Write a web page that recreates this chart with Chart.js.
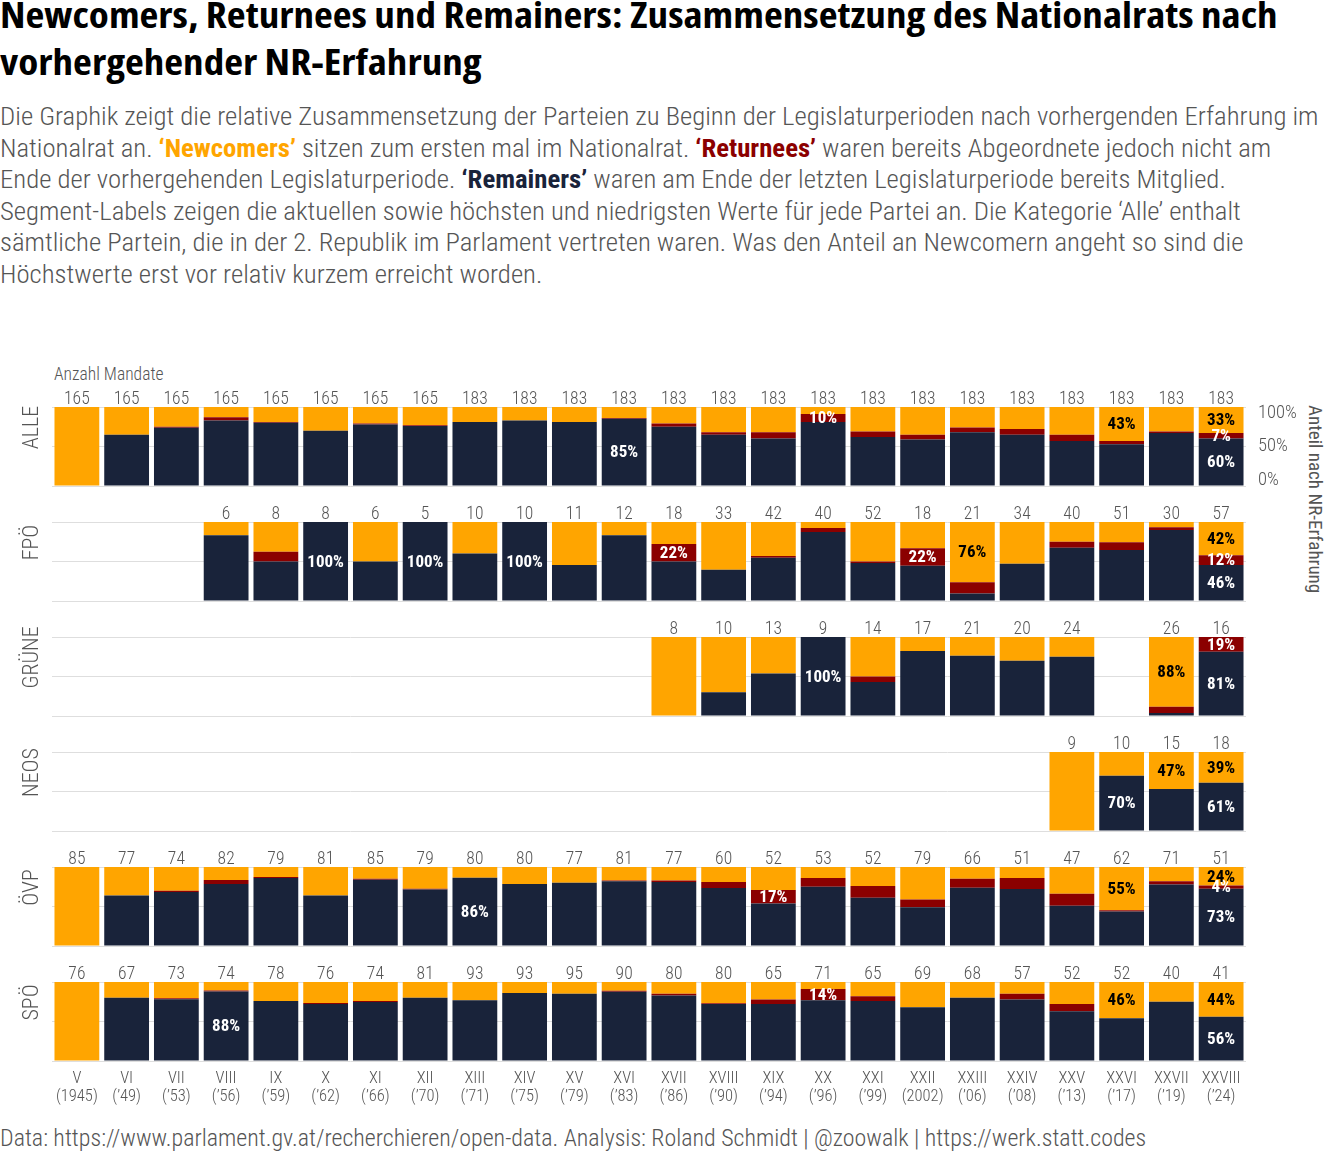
<!DOCTYPE html>
<html><head><meta charset="utf-8">
<script src="https://cdn.jsdelivr.net/npm/chart.js@4.4.1/dist/chart.umd.min.js"></script>
<style>
html,body{margin:0;padding:0;background:#fff}
body{width:1344px;height:1152px;position:relative;overflow:hidden;font-family:"Roboto Condensed",Roboto,sans-serif}
.ln{position:absolute;left:0;white-space:nowrap;transform-origin:0 0}
.ln span{display:inline-block}
.title{font-family:"Open Sans",sans-serif;font-weight:700;font-stretch:86%;font-size:36px;line-height:47px;color:#000}
.sub{font-weight:300;font-size:26.5px;line-height:31.6px;color:#555}
.sub b{font-weight:700}
.small{font-weight:300;color:#555}
canvas{position:absolute;left:0}
</style></head>
<body>
<div class="ln title" style="top:-9.5px"><span id="t1">Newcomers, Returnees und Remainers: Zusammensetzung des Nationalrats nach</span></div>
<div class="ln title" style="top:37.5px"><span id="t2">vorhergehender NR-Erfahrung</span></div>

<div class="ln sub" style="top:100px"><span id="s1">Die Graphik zeigt die relative Zusammensetzung der Parteien zu Beginn der Legislaturperioden nach vorhergenden Erfahrung im</span></div>
<div class="ln sub" style="top:131.6px"><span class="s">Nationalrat an. <b style="color:#FFA500">‘Newcomers’</b> sitzen zum ersten mal im Nationalrat. <b style="color:#8B0000">‘Returnees’</b> waren bereits Abgeordnete jedoch nicht am</span></div>
<div class="ln sub" style="top:163.2px"><span class="s">Ende der vorhergehenden Legislaturperiode. <b style="color:#19233A">‘Remainers’</b> waren am Ende der letzten Legislaturperiode bereits Mitglied.</span></div>
<div class="ln sub" style="top:194.8px"><span class="s">Segment-Labels zeigen die aktuellen sowie höchsten und niedrigsten Werte für jede Partei an. Die Kategorie ‘Alle’ enthalt</span></div>
<div class="ln sub" style="top:226.4px"><span class="s">sämtliche Partein, die in der 2. Republik im Parlament vertreten waren. Was den Anteil an Newcomern angeht so sind die</span></div>
<div class="ln sub" style="top:258px"><span class="s">Höchstwerte erst vor relativ kurzem erreicht worden.</span></div>

<div class="ln small" style="left:54px;top:366px;font-size:17.5px;line-height:17.5px">Anzahl Mandate</div>
<div class="small" style="position:absolute;left:1304px;top:405px;font-size:19px;font-weight:400;writing-mode:vertical-rl;white-space:nowrap">Anteil nach NR-Erfahrung</div>

<div class="ln small" style="top:1126px;font-size:24px;line-height:24px"><span id="foot">Data: https://www.parlament.gv.at/recherchieren/open-data. Analysis: Roland Schmidt | @zoowalk | https://werk.statt.codes</span></div>

<script>
// ---------- DATA ----------
const periods = ['V','VI','VII','VIII','IX','X','XI','XII','XIII','XIV','XV','XVI','XVII','XVIII','XIX','XX','XXI','XXII','XXIII','XXIV','XXV','XXVI','XXVII','XXVIII'];
const periodYears = ['(1945)','(’49)','(’53)','(’56)','(’59)','(’62)','(’66)','(’70)','(’71)','(’75)','(’79)','(’83)','(’86)','(’90)','(’94)','(’96)','(’99)','(2002)','(’06)','(’08)','(’13)','(’17)','(’19)','(’24)'];
const partyNames = ['ALLE','FPÖ','GRÜNE','NEOS','ÖVP','SPÖ'];

const alleMandates  = [165,165,165,165,165,165,165,165,183,183,183,183,183,183,183,183,183,183,183,183,183,183,183,183];
const alleNewcomers = [100,35,25,13,19,30,21,23,19,17,19,14,21,32,32,9,31,35,26,28,35,43,31,33];
const alleReturnees = [0,0,1.3,4,1,0,1,1,0,0,0,1,4,3,8,10,7,6,6,7,8,4,2,7];
const alleRemainers = [0,65,73.7,83,80,70,78,76,81,83,81,85,75,65,60,81,62,59,68,65,57,53,67,60];

const fpoMandates  = [null,null,null,6,8,8,6,5,10,10,11,12,18,33,42,40,52,18,21,34,40,51,30,57];
const fpoNewcomers = [null,null,null,16.7,37.5,0,50,0,40,0,54.5,16.7,27.8,60.6,42.9,7.5,50,33.3,76.2,52.9,25,25.5,6.7,42.1];
const fpoReturnees = [null,null,null,0,12.5,0,0,0,0,0,0,0,22.2,0,2.4,5,1.9,22.2,14.3,0,7.5,9.8,3.3,12.3];
const fpoRemainers = [null,null,null,83.3,50,100,50,100,60,100,45.5,83.3,50,39.4,54.7,87.5,48.1,44.5,9.5,47.1,67.5,64.7,90,45.6];

const grueneMandates  = [null,null,null,null,null,null,null,null,null,null,null,null,8,10,13,9,14,17,21,20,24,null,26,16];
const grueneNewcomers = [null,null,null,null,null,null,null,null,null,null,null,null,100,70,46.2,0,50,17.6,23.8,30,25,null,88.4,0];
const grueneReturnees = [null,null,null,null,null,null,null,null,null,null,null,null,0,0,0,0,7.1,0,0,0,0,null,7.7,18.8];
const grueneRemainers = [null,null,null,null,null,null,null,null,null,null,null,null,0,30,53.8,100,42.9,82.4,76.2,70,75,null,3.9,81.2];

const neosMandates  = [null,null,null,null,null,null,null,null,null,null,null,null,null,null,null,null,null,null,null,null,9,10,15,18];
const neosNewcomers = [null,null,null,null,null,null,null,null,null,null,null,null,null,null,null,null,null,null,null,null,100,30,46.7,38.9];
const neosReturnees = [null,null,null,null,null,null,null,null,null,null,null,null,null,null,null,null,null,null,null,null,0,0,0,0];
const neosRemainers = [null,null,null,null,null,null,null,null,null,null,null,null,null,null,null,null,null,null,null,null,0,70,53.3,61.1];

const oevpMandates  = [85,77,74,82,79,81,85,79,80,80,77,81,77,60,52,53,52,79,66,51,47,62,71,51];
const oevpNewcomers = [100,36,30,16.5,12.7,36,15,27.5,13.75,21.6,20,17,17,19,29,14,24,41,15,14,34,54.8,18,23.5];
const oevpReturnees = [0,0,1.5,5,1.3,0,1,1,0,0,0,1,2,7.6,17.3,11,15,10,11.4,14,15,1.4,4,3.9];
const oevpRemainers = [0,64,68.5,78.5,86,64,84,71.5,86.25,78.4,80,82,81,73.4,53.7,75,61,49,73.6,72,51,43.8,78,72.6];

const spoeMandates  = [76,67,73,74,78,76,74,81,93,93,95,90,80,80,65,71,65,69,68,57,52,52,40,41];
const spoeNewcomers = [100,20,20.5,10.7,24,26.7,24,20,23,14,15,11.2,15,27,22,9,18,32,20,15,28,46,25,43.9];
const spoeReturnees = [0,0,1.4,1.4,0,1.3,1.4,0,0,0,0,1.1,2,1,6,14,6,0,0,7,9,0,0,0];
const spoeRemainers = [0,80,78.1,87.9,76,72,74.6,80,77,86,85,87.7,83,72,72,77,76,68,80,78,63,54,75,56.1];

// ---------- STYLE ----------
const NAVY = '#19233A', RED = '#8B0000', ORANGE = '#FFA500', GREY = '#555555', GRID = '#dedede';
const FONT = '"Roboto Condensed", Roboto, sans-serif';
Chart.defaults.font.family = FONT;

const rows = [
  {name: partyNames[0], mandates: alleMandates, newcomers: alleNewcomers, returnees: alleReturnees, remainers: alleRemainers},
  {name: partyNames[1], mandates: fpoMandates, newcomers: fpoNewcomers, returnees: fpoReturnees, remainers: fpoRemainers},
  {name: partyNames[2], mandates: grueneMandates, newcomers: grueneNewcomers, returnees: grueneReturnees, remainers: grueneRemainers},
  {name: partyNames[3], mandates: neosMandates, newcomers: neosNewcomers, returnees: neosReturnees, remainers: neosRemainers},
  {name: partyNames[4], mandates: oevpMandates, newcomers: oevpNewcomers, returnees: oevpReturnees, remainers: oevpRemainers},
  {name: partyNames[5], mandates: spoeMandates, newcomers: spoeNewcomers, returnees: spoeReturnees, remainers: spoeRemainers}
];

// label current value + highest value per category (first period of a party excluded)
function labelFlags(values, first) {
  const last = values.length - 1;
  let max = -Infinity;
  values.forEach((v, i) => { if (i > first && v != null && v > max) max = v; });
  return values.map((v, i) => v != null && v > 0 && (i === last || (i > first && v === max)));
}

const annotPlugin = {
  id: 'annot',
  afterDatasetsDraw(chart, args, opts) {
    const row = opts.row;
    const {ctx, chartArea} = chart;
    const xs = chart.scales.x;
    ctx.save();
    // mandate counts
    ctx.font = '300 17.5px ' + FONT;
    ctx.fillStyle = GREY;
    ctx.textAlign = 'center';
    ctx.textBaseline = 'alphabetic';
    row.mandates.forEach((m, i) => {
      if (m == null) return;
      ctx.fillText(String(m), xs.getPixelForValue(i), chartArea.top - 3);
    });
    // party name
    ctx.save();
    ctx.font = '300 22px ' + FONT;
    ctx.translate(32, (chartArea.top + chartArea.bottom) / 2 - 19);
    ctx.rotate(-Math.PI / 2);
    ctx.textBaseline = 'middle';
    ctx.fillText(row.name, 0, 0);
    ctx.restore();
    // segment labels
    const first = row.mandates.findIndex(m => m != null);
    ctx.font = 'bold 17px ' + FONT;
    ctx.textBaseline = 'middle';
    const series = [row.remainers, row.returnees, row.newcomers];
    series.forEach((vals, d) => {
      const flags = labelFlags(vals, first);
      const meta = chart.getDatasetMeta(d);
      flags.forEach((f, i) => {
        if (!f) return;
        const el = meta.data[i];
        ctx.fillStyle = d === 2 ? '#000' : '#fff';
        ctx.fillText(Math.round(vals[i]) + '%', el.x, (el.y + el.base) / 2 + 1);
      });
    });
    ctx.restore();
  }
};

rows.forEach((row, k) => {
  const isFirst = k === 0, isLast = k === rows.length - 1;
  const h = isLast ? 149 : 116;
  const cv = document.createElement('canvas');
  cv.width = 1344; cv.height = h;
  cv.style.width = '1344px'; cv.style.height = h + 'px';
  cv.style.top = (407 + 115 * k - 25) + 'px';
  document.body.appendChild(cv);
  const ds = (label, data, color) => ({label, data, backgroundColor: color, borderWidth: 0, barPercentage: 0.9, categoryPercentage: 1, stack: 's'});
  const xScale = {stacked: true, display: isLast, grid: {display: false, drawTicks: false}, border: {display: false},
        ticks: {autoSkip: false, maxRotation: 0, minRotation: 0, color: GREY, font: {size: 16.5, weight: 300, lineHeight: 1.1}, padding: 9}};
  if (isLast) xScale.afterFit = s => { s.height = 45; };
  const scales = {
    x: xScale,
    y: {stacked: true, min: 0, max: 100, position: 'left',
        ticks: {display: false, stepSize: 50},
        grid: {color: GRID, lineWidth: 1, drawTicks: false}, border: {display: false},
        afterFit: s => { s.width = 52; }}
  };
  if (isFirst) {
    scales.y2 = {position: 'right', min: -9, max: 109,
      grid: {display: false, drawTicks: false}, border: {display: false},
      afterBuildTicks: s => { s.ticks = [{value: 0}, {value: 50}, {value: 100}]; },
      ticks: {callback: v => v + '%', color: GREY, font: {size: 18.5, weight: 300}, padding: 12},
      afterFit: s => { s.width = 98; s.paddingTop = 0; s.paddingBottom = 0; }};
  }
  new Chart(cv, {
    type: 'bar',
    data: {
      labels: periods.map((p, i) => [p, periodYears[i]]),
      datasets: [
        ds('Remainers', row.remainers, NAVY),
        ds('Returnees', row.returnees, RED),
        ds('Newcomers', row.newcomers, ORANGE)
      ]
    },
    options: {
      responsive: false, animation: false,
      layout: {padding: {top: 25, bottom: isLast ? 0 : 12, left: 0, right: isFirst ? 0 : 98}},
      plugins: {legend: {display: false}, tooltip: {enabled: false}, annot: {row}},
      scales
    },
    plugins: [annotPlugin]
  });
});

// fit text lines to the reference widths (offsetWidth ignores transforms)
function fit(el, target, others) {
  const w = el.offsetWidth;
  if (!w) return;
  const s = target / w;
  [el.parentNode].concat(others || []).forEach(n => { n.style.transform = 'scaleX(' + s + ')'; });
}
function doFit() {
  fit(document.getElementById('t1'), 1278, [document.getElementById('t2').parentNode]);
  fit(document.getElementById('s1'), 1318, Array.from(document.querySelectorAll('.s')).map(e => e.parentNode));
  fit(document.getElementById('foot'), 1146);
}
doFit();
if (document.fonts && document.fonts.ready) document.fonts.ready.then(doFit);
</script>
</body></html>
